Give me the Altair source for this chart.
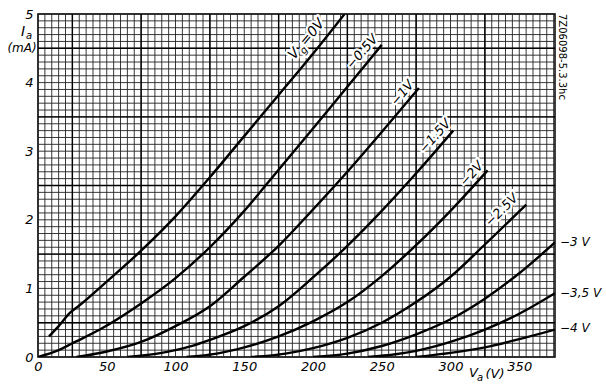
import altair as alt
import pandas as pd

# ---- anode characteristics (Va in V, Ia in mA) ----
va_g0 = [8, 15, 23, 30, 50, 75, 100, 125, 150, 175, 200, 223]
ia_g0 = [0.30, 0.45, 0.64, 0.75, 1.10, 1.55, 2.05, 2.62, 3.22, 3.82, 4.42, 5.00]
va_g05 = [0, 15, 25, 45, 75, 100, 125, 150, 175, 200, 225, 250]
ia_g05 = [0.00, 0.10, 0.20, 0.40, 0.78, 1.15, 1.60, 2.13, 2.73, 3.33, 3.94, 4.55]
va_g1 = [28, 50, 75, 100, 125, 150, 175, 200, 225, 250, 277]
ia_g1 = [0.00, 0.08, 0.22, 0.45, 0.74, 1.17, 1.62, 2.15, 2.70, 3.28, 3.92]
va_g15 = [65, 90, 110, 125, 150, 175, 200, 225, 250, 276, 302]
ia_g15 = [0.00, 0.06, 0.15, 0.25, 0.45, 0.74, 1.16, 1.62, 2.13, 2.70, 3.30]
va_g2 = [108, 130, 150, 175, 200, 225, 250, 275, 300, 327]
ia_g2 = [0.00, 0.05, 0.14, 0.30, 0.52, 0.80, 1.18, 1.63, 2.13, 2.72]
va_g25 = [155, 180, 200, 225, 250, 275, 300, 325, 355]
ia_g25 = [0.00, 0.05, 0.13, 0.28, 0.50, 0.80, 1.17, 1.64, 2.22]
va_g3 = [200, 225, 250, 275, 300, 325, 350, 376]
ia_g3 = [0.00, 0.05, 0.16, 0.33, 0.55, 0.85, 1.22, 1.67]
va_g35 = [240, 260, 275, 300, 325, 350, 376]
ia_g35 = [0.00, 0.04, 0.09, 0.22, 0.40, 0.63, 0.93]
va_g4 = [275, 300, 325, 350, 376]
ia_g4 = [0.00, 0.06, 0.14, 0.26, 0.40]

curve_names = ["0", "-0.5", "-1", "-1.5", "-2", "-2.5", "-3", "-3.5", "-4"]
curve_va = [va_g0, va_g05, va_g1, va_g15, va_g2, va_g25, va_g3, va_g35, va_g4]
curve_ia = [ia_g0, ia_g05, ia_g1, ia_g15, ia_g2, ia_g25, ia_g3, ia_g35, ia_g4]

# rotated curve labels (centre position in data units, angle)
lab_text = ["−0.5V", "−1V", "−1.5V", "−2V", "−2.5V"]
lab_va = [238.0, 267.3, 290.9, 317.5, 339.3]
lab_ia = [4.41, 3.81, 3.18, 2.63, 2.10]
lab_ang = [311, 310, 312, 312, 315]

# labels at the right edge
rlab_text = ["−3 V", "−3,5 V", "−4 V"]
rlab_ia = [1.67, 0.93, 0.42]

x_ticks = [0, 50, 100, 150, 200, 250, 300, 350]
y_ticks = [0, 1, 2, 3, 4, 5]
grid_x_minor = list(range(0, 376, 5))
grid_y_minor = [round(i * 0.1, 1) for i in range(51)]
grid_x_major = [25, 75, 125, 175, 225, 275, 325]
grid_y_major = [0.5, 1.5, 2.5, 3.5, 4.5]

W, H = 517, 343
XMAX = 376
FONT = "DejaVu Sans"

rows = []
for n, vs, is_ in zip(curve_names, curve_va, curve_ia):
    for v, i in zip(vs, is_):
        rows.append({"vg": n, "va": v, "ia": i})
curves_df = pd.DataFrame(rows)

xs = alt.Scale(domain=[0, XMAX], nice=False, zero=False)
ys = alt.Scale(domain=[0, 5], nice=False)

x_axis = alt.Axis(values=x_ticks, title=None, grid=False, ticks=False, domain=False,
                  labelFont=FONT, labelFontStyle="italic", labelFontSize=13,
                  labelColor="black", labelPadding=3, labelFlush=False)
y_axis = alt.Axis(values=y_ticks, title=None, grid=False, ticks=False, domain=False,
                  labelFont=FONT, labelFontStyle="italic", labelFontSize=13,
                  labelColor="black", labelPadding=5, labelFlush=False, format="d")

X = lambda f: alt.X(f, scale=xs, axis=x_axis)
Y = lambda f: alt.Y(f, scale=ys, axis=y_axis)

vminor = alt.Chart(pd.DataFrame({"va": grid_x_minor})).mark_rule(
    color="#222222", strokeWidth=0.9).encode(x=X("va:Q"))
hminor = alt.Chart(pd.DataFrame({"ia": grid_y_minor})).mark_rule(
    color="#222222", strokeWidth=0.9).encode(y=Y("ia:Q"))
vmajor = alt.Chart(pd.DataFrame({"va": grid_x_major})).mark_rule(
    color="#000000", strokeWidth=1.4).encode(x=X("va:Q"))
hmajor = alt.Chart(pd.DataFrame({"ia": grid_y_major})).mark_rule(
    color="#000000", strokeWidth=1.4).encode(y=Y("ia:Q"))

curves = alt.Chart(curves_df).mark_line(
    color="black", strokeWidth=2.4, interpolate="monotone", clip=True
).encode(
    x=X("va:Q"),
    y=Y("ia:Q"),
    detail="vg:N",
    order="va:Q",
)

lab_df = pd.DataFrame({"t": lab_text, "va": lab_va, "ia": lab_ia, "ang": lab_ang})


def text_pair(df, halo=4.5, **props):
    enc = dict(x=X("va:Q"), y=Y("ia:Q"), text="t:N")
    if "ang" in df.columns:
        enc["angle"] = alt.Angle("ang:Q", scale=None)
    base = alt.Chart(df)
    h = base.mark_text(stroke="white", strokeWidth=halo, fill="white",
                       strokeJoin="round", **props).encode(**enc)
    t = base.mark_text(color="black", **props).encode(**enc)
    return h, t


common = dict(font=FONT, fontStyle="italic", align="center", baseline="middle")
lab_h, lab_t = text_pair(lab_df, fontSize=13, dy=-4, **common)

# "Vg = 0 V" label in pieces (subscript g)
g0_va, g0_ia, g0_ang = 196.4, 4.61, 310
pieces = []
for txt, dx, dy, fs in [("V", -19, -2, 14), ("g", -10, 3, 10), ("=0V", 9, -2, 14)]:
    pdf = pd.DataFrame({"t": [txt], "va": [g0_va], "ia": [g0_ia], "ang": [g0_ang]})
    pieces.append(text_pair(pdf, fontSize=fs, dx=dx, dy=dy, **common))
g_halos = [p[0] for p in pieces]
g_texts = [p[1] for p in pieces]

# right-hand labels
rl_df = pd.DataFrame({"t": rlab_text, "va": [XMAX] * 3, "ia": rlab_ia})
rlabels = alt.Chart(rl_df).mark_text(
    font=FONT, fontStyle="italic", fontSize=12, align="left", baseline="middle",
    dx=5, color="black"
).encode(x=X("va:Q"), y=Y("ia:Q"), text="t:N")


def free_text(txt, x, y, size=13, angle=0, align="center", style="italic"):
    props = dict(font=FONT, fontStyle=style, fontSize=size, align=align,
                 baseline="middle", color="black")
    if angle:
        props["angle"] = angle
    return alt.Chart(pd.DataFrame({"t": [txt]})).mark_text(**props).encode(
        x=alt.value(x), y=alt.value(y), text="t:N")


extras = [
    free_text("V", 435.5, 359),
    free_text("a", 442, 364, size=10),
    free_text("(V)", 457, 360),
    free_text("I", -15, 18, size=14),
    free_text("a", -9, 22, size=10),
    free_text("(mA)", -16, 34, size=12),
    free_text("7Z06098-5.3.3hc", 524, 0, size=10, angle=90, align="left", style="normal"),
]

chart = alt.layer(
    vminor, hminor, vmajor, hmajor, curves,
    lab_h, *g_halos, lab_t, *g_texts, rlabels, *extras
).properties(
    width=W, height=H,
    autosize=alt.AutoSizeParams(type="none"),
    padding={"left": 38, "top": 14, "right": 51, "bottom": 32},
    background="white",
).configure_view(stroke="black", strokeWidth=1.5)

chart.save("out.html", embed_options={"renderer": "svg", "actions": False})
